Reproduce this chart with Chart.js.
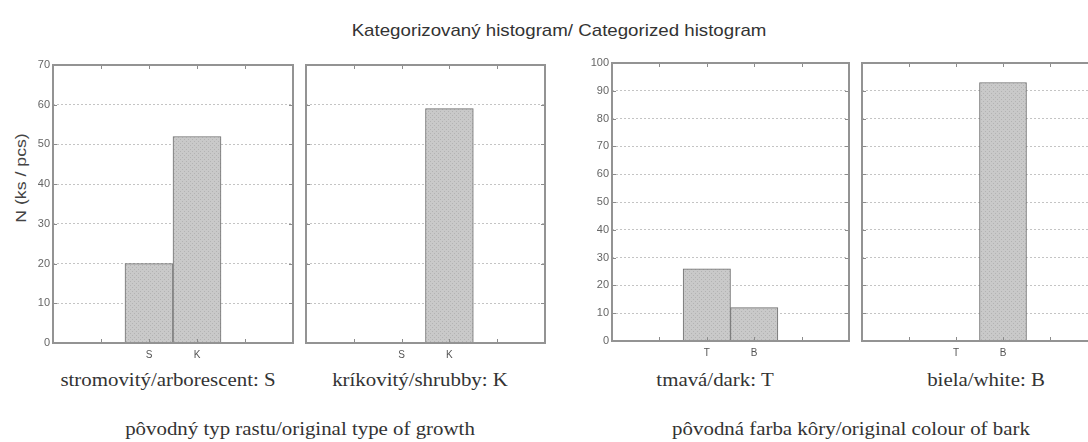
<!DOCTYPE html>
<html lang="sk">
<head>
  <meta charset="UTF-8">
  <title>Kategorizovaný histogram</title>
  <script src="https://cdn.jsdelivr.net/npm/chart.js"></script>
  <style>
    html, body { margin: 0; padding: 0; background: #fff; overflow: hidden; }
    #page { position: relative; width: 1088px; height: 442px; overflow: hidden; }
    canvas { position: absolute; }
    .lbl { position: absolute; white-space: nowrap; transform: translate(-50%, -50%) scaleX(1.16); color: #333; }
    .serif { font-family: "Liberation Serif", "DejaVu Serif", serif; font-size: 18px; }
    .sans { font-family: "Liberation Sans", Arial, sans-serif; }
  </style>
</head>
<body>
  <div id="page">
    <div class="lbl sans" style="left:559px; top:31px; font-size:17px; transform:translate(-50%,-50%) scaleX(1.1);">Kategorizovaný histogram/ Categorized histogram</div>
    <div class="lbl sans" style="left:20px; top:178px; font-size:15px; color:#444; transform:translate(-50%,-50%) rotate(-90deg) scaleX(1.18);">N (ks / pcs)</div>

    <canvas id="arborescent" width="300" height="310" style="left:0; top:55px;"></canvas>
    <canvas id="shrubby" width="255" height="310" style="left:300px; top:55px;"></canvas>
    <canvas id="dark" width="300" height="310" style="left:555px; top:53px;"></canvas>
    <canvas id="white" width="250" height="310" style="left:855px; top:53px;"></canvas>

    <div class="lbl serif" style="left:168px; top:380px;">stromovitý/arborescent: S</div>
    <div class="lbl serif" style="left:420px; top:380px;">kríkovitý/shrubby: K</div>
    <div class="lbl serif" style="left:715px; top:380px;">tmavá/dark: T</div>
    <div class="lbl serif" style="left:986px; top:380px;">biela/white: B</div>

    <div class="lbl serif" style="left:300px; top:429px;">pôvodný typ rastu/original type of growth</div>
    <div class="lbl serif" style="left:851px; top:429px;">pôvodná farba kôry/original colour of bark</div>
  </div>

  <script>
    // kategórie (prázdne sloty po stranách ako v Statistice)
    const growthCategories = ["", "", "S", "K", "", ""];
    const barkCategories = ["", "", "T", "B", "", ""];

    // počty
    const arborescentCounts = [null, null, 20, 52, null, null];
    const shrubbyCounts = [null, null, 0, 59, null, null];
    const darkCounts = [null, null, 26, 12, null, null];
    const whiteCounts = [null, null, 0, 93, null, null];

    // os y
    const growthAxis = { min: 0, max: 70, step: 10 };
    const barkAxis = { min: 0, max: 100, step: 10 };

    function dottedFill() {
      const c = document.createElement("canvas");
      c.width = 4; c.height = 4;
      const g = c.getContext("2d");
      g.fillStyle = "#c9c9c9";
      g.fillRect(0, 0, 4, 4);
      g.fillStyle = "#b3b3b3";
      g.fillRect(0, 0, 1, 1);
      g.fillRect(2, 2, 1, 1);
      return g.createPattern(c, "repeat");
    }

    // rámček a krátke značky dovnútra
    const framePlugin = {
      id: "frame",
      afterDraw(chart) {
        const { ctx, chartArea: { left, right, top, bottom }, scales: { x, y } } = chart;
        ctx.save();
        ctx.strokeStyle = "#8c8c8c";
        ctx.lineWidth = 1;
        ctx.beginPath();
        for (let i = 1; i < chart.data.labels.length - 1; i++) {
          const px = Math.round(x.getPixelForValue(i)) + 0.5;
          ctx.moveTo(px, top); ctx.lineTo(px, top + 4);
          ctx.moveTo(px, bottom); ctx.lineTo(px, bottom - 4);
        }
        y.ticks.forEach(t => {
          const py = Math.round(y.getPixelForValue(t.value)) + 0.5;
          ctx.moveTo(left, py); ctx.lineTo(left + 4, py);
          ctx.moveTo(right, py); ctx.lineTo(right - 4, py);
        });
        ctx.stroke();
        ctx.lineWidth = 2;
        ctx.strokeStyle = "#939393";
        ctx.strokeRect(left, top, right - left, bottom - top);
        ctx.restore();
      }
    };

    function renderPanel(canvasId, labels, data, axis, yWidth, showTicks, padRight) {
      new Chart(document.getElementById(canvasId), {
        type: "bar",
        data: {
          labels,
          datasets: [{
            data,
            backgroundColor: dottedFill(),
            borderColor: "#707070",
            borderWidth: 1,
            barPercentage: 1,
            categoryPercentage: 1
          }]
        },
        options: {
          responsive: false,
          animation: false,
          layout: { padding: { top: 10, right: padRight, left: 0, bottom: 0 } },
          plugins: { legend: { display: false }, tooltip: { enabled: false } },
          scales: {
            x: {
              offset: false,
              grid: { display: false, drawTicks: false },
              border: { display: false },
              ticks: {
                autoSkip: false,
                maxRotation: 0,
                padding: 6,
                color: "#555",
                font: { family: "Liberation Sans, Arial, sans-serif", size: 10 }
              },
              afterFit(scale) { scale.height = 22; }
            },
            y: {
              min: axis.min,
              max: axis.max,
              grid: { color: "#c4c4c4", lineWidth: 1, drawTicks: false },
              border: { display: false, dash: [2, 2] },
              ticks: {
                display: showTicks,
                stepSize: axis.step,
                padding: 3,
                color: "#666",
                font: { family: "Liberation Sans, Arial, sans-serif", size: 11 }
              },
              afterFit(scale) { scale.width = yWidth; }
            }
          }
        },
        plugins: [framePlugin]
      });
    }

    renderPanel("arborescent", growthCategories, arborescentCounts, growthAxis, 53, true, 7);
    renderPanel("shrubby", growthCategories, shrubbyCounts, growthAxis, 6, false, 10);
    renderPanel("dark", barkCategories, darkCounts, barkAxis, 57, true, 6);
    renderPanel("white", barkCategories, whiteCounts, barkAxis, 7, false, 8);
  </script>
</body>
</html>
